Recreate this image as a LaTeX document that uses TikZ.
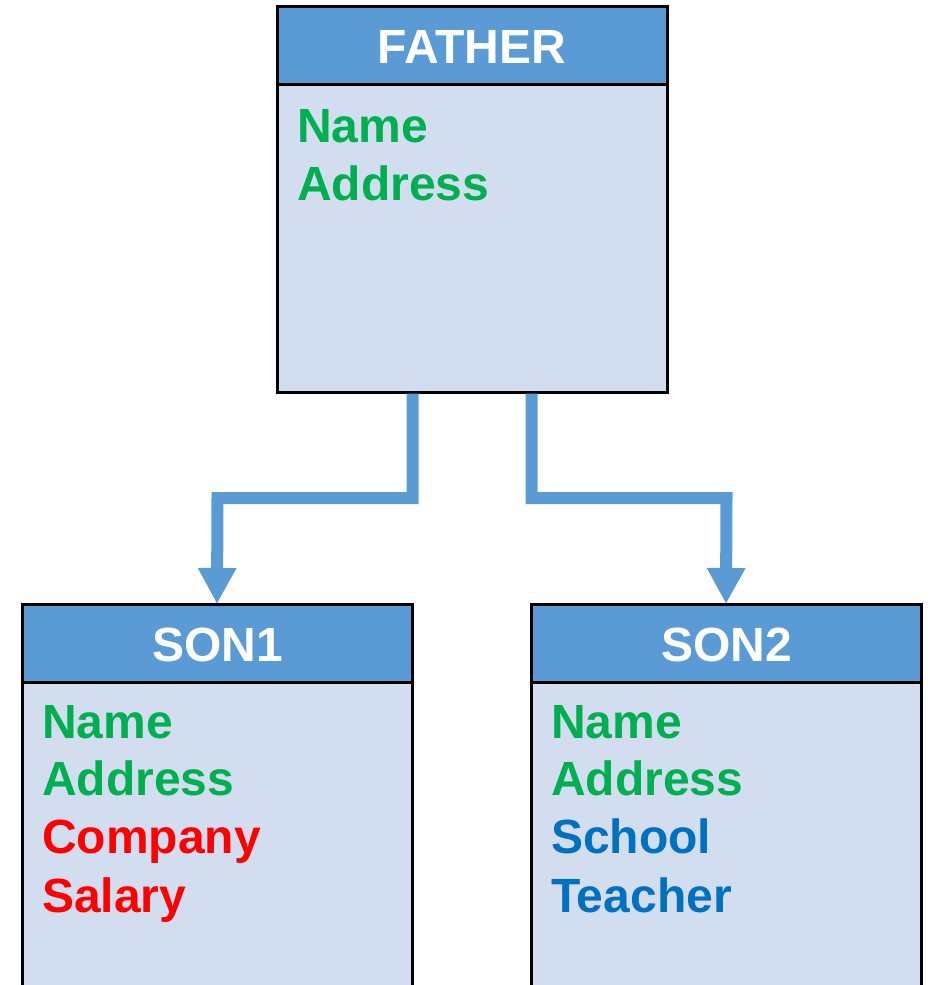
\documentclass[tikz,border=0pt]{standalone}
\usepackage{fontspec}
\setmainfont{Liberation Sans}
\usetikzlibrary{arrows.meta}
\definecolor{hdrblue}{HTML}{5B9BD5}
\definecolor{bodyblue}{HTML}{D2DEEF}
\definecolor{attrgreen}{HTML}{00B050}
\definecolor{attrred}{HTML}{FF0000}
\definecolor{attrblue}{HTML}{0070C0}
\begin{document}
\begin{tikzpicture}[x=1pt,y=-1pt,
  header/.style={draw=black,line width=3pt,fill=hdrblue,minimum width=390pt,
    minimum height=78pt,inner sep=0pt,outer sep=0pt,anchor=north west},
  body/.style={draw=black,line width=3pt,fill=bodyblue,minimum width=390pt,
    inner sep=0pt,outer sep=0pt,anchor=north west},
  title/.style={font=\fontsize{48}{56}\selectfont\bfseries,text=white,
    anchor=base,inner sep=0pt},
  attr/.style={font=\fontsize{48}{56}\selectfont\bfseries,anchor=base west,
    inner sep=0pt},
  conn/.style={draw=hdrblue,line width=12pt,
    -{Triangle[width=36pt,length=36pt]}}
]
\useasboundingbox (0,0) rectangle (935,985);
\clip (0,0) rectangle (935,985);

% class boxes
\node[header] (fhead) at (277,6) {};
\node[body,minimum height=308pt] (fbody) at (277,84) {};
\node[header] (s1head) at (22,604) {};
\node[body,minimum height=330pt] (s1body) at (22,682) {};
\node[header] (s2head) at (531,604) {};
\node[body,minimum height=330pt] (s2body) at (531,682) {};

% titles
\node[title] (ftitle) at (472,63) {FATHER};
\node[title] (s1title) at (217.5,661) {SON1};
\node[title] (s2title) at (726.5,661) {SON2};

% attributes
\node[attr,text=attrgreen] (fname) at (297,142) {Name};
\node[attr,text=attrgreen] (faddr) at (297,200) {Address};

\node[attr,text=attrgreen] (s1name) at (42,738) {Name};
\node[attr,text=attrgreen] (s1addr) at (42,795) {Address};
\node[attr,text=attrred]   (s1comp) at (42,853) {Company};
\node[attr,text=attrred]   (s1sal)  at (42,912) {Salary};

\node[attr,text=attrgreen] (s2name) at (551,738) {Name};
\node[attr,text=attrgreen] (s2addr) at (551,795) {Address};
\node[attr,text=attrblue]  (s2sch)  at (551,853) {School};
\node[attr,text=attrblue]  (s2tea)  at (551,912) {Teacher};

% inheritance connectors
\draw[conn] ([xshift=-59.5pt,yshift=-1.5pt]fbody.south) |- (217.5,498) -- (s1head.north);
\draw[conn] ([xshift=59.5pt,yshift=-1.5pt]fbody.south) |- (726.5,498) -- (s2head.north);
\end{tikzpicture}
\end{document}
